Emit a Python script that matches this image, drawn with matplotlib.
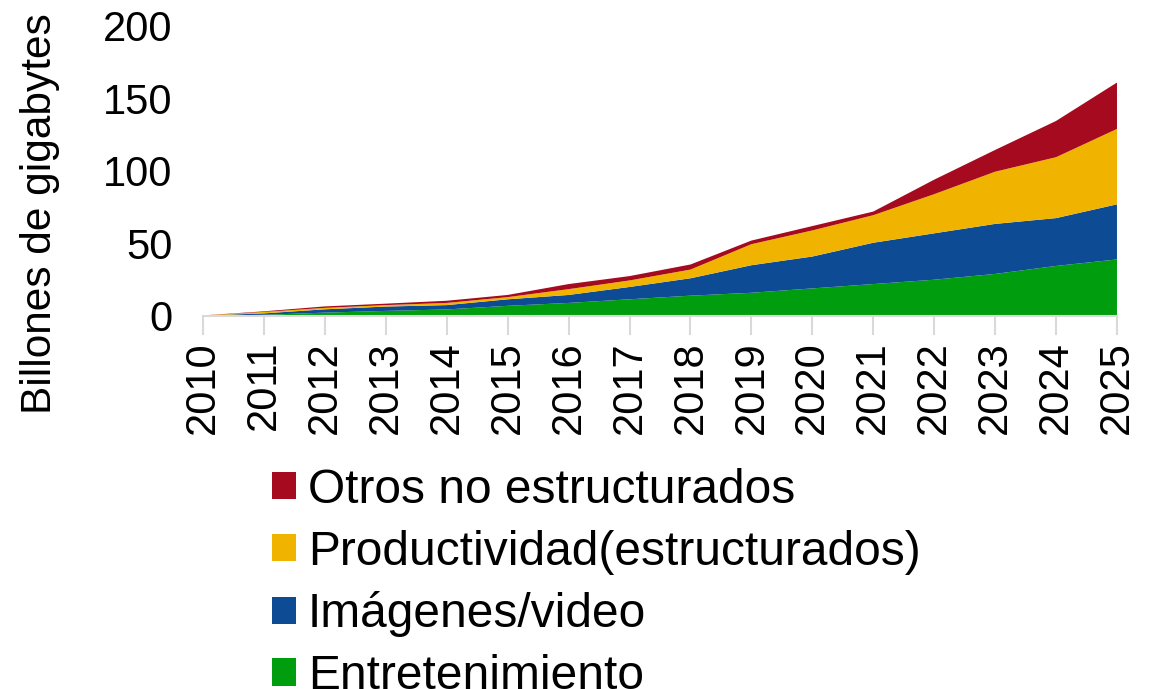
import matplotlib.pyplot as plt
import numpy as np

plt.rcParams['font.family'] = ['Liberation Sans', 'DejaVu Sans']

# data (billones de gigabytes, stacked)
years = list(range(2010, 2026))
entretenimiento = [0.2, 0.8, 2.3, 3.5, 4.5, 7, 9, 11.5, 14, 16, 19, 22, 25, 29, 34.5, 39]
imagenes_video = [0.1, 1.0, 2.3, 3, 3, 4.5, 5.5, 8.5, 12, 19, 22, 28.5, 32, 34.5, 33, 38]
productividad = [0.05, 1.0, 1.0, 1, 1.5, 1.5, 4, 4.5, 6, 14.5, 18, 19, 27, 36, 42, 52]
otros = [0.05, 0.4, 1.0, 1, 1.5, 1.5, 3.5, 3, 3.5, 2.5, 3, 2.5, 10, 15, 25, 32]

labels = ['Entretenimiento', 'Imágenes/video',
          'Productividad(estructurados)', 'Otros no estructurados']
colors = ['#009E0F', '#0D4C94', '#F0B400', '#A50A1E']

fig = plt.figure(figsize=(11.52, 6.89), dpi=100)
ax = fig.add_axes([0.1762, 0.5414, 0.7934, 0.4209])

polys = ax.stackplot(years, entretenimiento, imagenes_video, productividad, otros,
                     colors=colors, labels=labels, linewidth=0)

ax.set_xlim(2010, 2025)
ax.set_ylim(0, 200)
ax.set_yticks([0, 50, 100, 150, 200])
ax.set_xticks(years)
ax.set_xticklabels([str(y) for y in years], rotation=90)

for s in ['top', 'right', 'left']:
    ax.spines[s].set_visible(False)
ax.spines['bottom'].set_color('#D9D9D9')
ax.spines['bottom'].set_linewidth(1.5)
ax.tick_params(axis='y', length=0, labelsize=30, pad=22)
ax.tick_params(axis='x', length=14, width=1.5, color='#D9D9D9',
               labelsize=30, pad=4)
# y label sits lower than the axes centre in the original
fig.text(40 / 1152, 1 - 214 / 689, 'Billones de gigabytes', fontsize=30.5,
         rotation=90, ha='center', va='center')

handles, labs = ax.get_legend_handles_labels()
fig.legend(handles[::-1], labs[::-1], loc='upper left',
           bbox_to_anchor=(0.236, 0.321), frameon=False, fontsize=34.5,
           handlelength=0.5, handleheight=0.5, handletextpad=0.25,
           labelspacing=0.35, borderaxespad=0, borderpad=0)

fig.savefig('out.png', dpi=100)
